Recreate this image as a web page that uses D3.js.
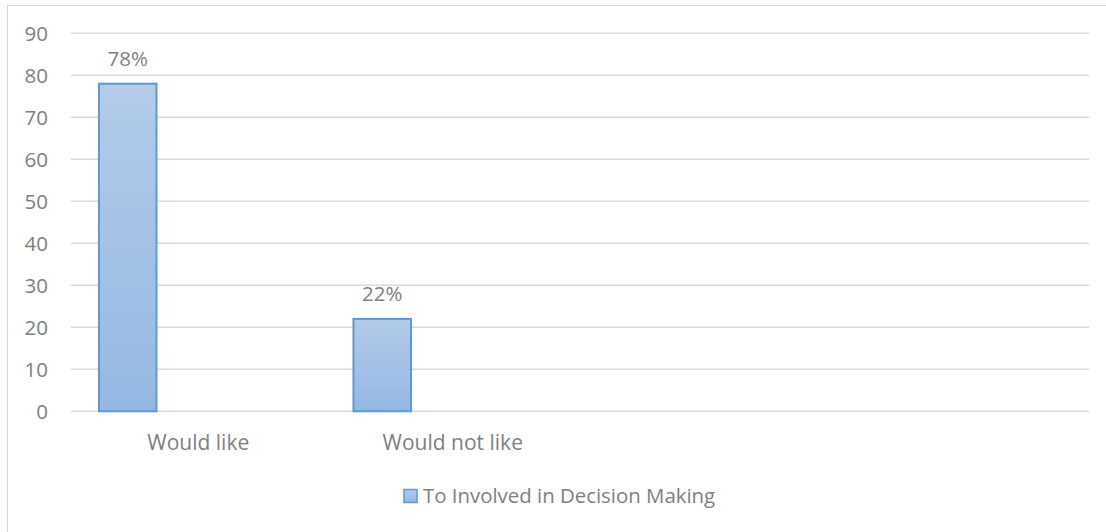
<!DOCTYPE html>
<html><head><meta charset="utf-8">
<script src="https://cdn.jsdelivr.net/npm/d3@7"></script>
<style>html,body{margin:0;padding:0;background:#fff;}svg{display:block;}</style>
</head><body>
<script>
const categories = ["Would like", "Would not like", "", ""];
const values = [78, 22, null, null];
const valueLabels = ["78%", "22%", "", ""];
const yTicks = [0, 10, 20, 30, 40, 50, 60, 70, 80, 90];
const seriesName = "To Involved in Decision Making";

const W = 1106, H = 532;
const plotLeft = 71, plotRight = 1089, plotTop = 33.3, plotBottom = 411.3;
const font = "'Open Sans', sans-serif";
const textColor = "#7f7f7f";

const svg = d3.select("body").append("svg").attr("width", W).attr("height", H);

const defs = svg.append("defs");
const grad = defs.append("linearGradient").attr("id", "barGrad").attr("x1", 0).attr("y1", 0).attr("x2", 0).attr("y2", 1);
grad.append("stop").attr("offset", "0%").attr("stop-color", "#b2cbe9");
grad.append("stop").attr("offset", "100%").attr("stop-color", "#94b8e3");

// outer chart border
svg.append("rect").attr("x", 7.5).attr("y", 5.5).attr("width", W + 20).attr("height", H + 20)
  .attr("fill", "none").attr("stroke", "#d9d9d9").attr("stroke-width", 1);

const y = d3.scaleLinear().domain([0, 90]).range([plotBottom, plotTop]);
const xCat = d3.scaleBand().domain(d3.range(categories.length)).range([plotLeft, plotRight]).padding(0);
const xBar = d3.scaleBand().domain(d3.range(categories.length)).range([plotLeft, plotRight])
  .paddingInner(0.774).paddingOuter(0.387).align(0.142);

// gridlines
svg.append("g").selectAll("line").data(yTicks).join("line")
  .attr("x1", plotLeft).attr("x2", plotRight)
  .attr("y1", d => y(d)).attr("y2", d => y(d))
  .attr("stroke", "#d9d9d9").attr("stroke-width", 1.5);

// y axis labels
const yAxis = d3.axisLeft(y).tickValues(yTicks).tickSize(0).tickPadding(0);
const ya = svg.append("g").attr("transform", `translate(48,0)`).call(yAxis);
ya.select(".domain").remove();
ya.selectAll("text").attr("font-family", font).attr("font-size", 20.5).attr("fill", textColor).attr("dy", "0.36em");

// bars
const barData = values.map((v, i) => ({ i, v })).filter(d => d.v != null);
svg.append("g").selectAll("rect").data(barData).join("rect")
  .attr("x", d => xBar(d.i)).attr("width", xBar.bandwidth())
  .attr("y", d => y(d.v)).attr("height", d => y(0) - y(d.v))
  .attr("fill", "url(#barGrad)").attr("stroke", "#5b9bd5").attr("stroke-width", 2);

// data labels
svg.append("g").selectAll("text").data(barData).join("text")
  .attr("x", d => xBar(d.i) + xBar.bandwidth() / 2).attr("y", d => y(d.v) - 17.5)
  .attr("text-anchor", "middle").attr("font-family", font).attr("font-size", 20.5).attr("fill", textColor)
  .text(d => valueLabels[d.i]);

// category labels
svg.append("g").selectAll("text").data(categories.map((c, i) => ({ c, i }))).join("text")
  .attr("x", d => xCat(d.i) + xCat.bandwidth() / 2).attr("y", 450)
  .attr("text-anchor", "middle").attr("font-family", font).attr("font-size", 21).attr("fill", textColor)
  .text(d => d.c);

// legend
const lg = svg.append("g");
lg.append("rect").attr("x", 404).attr("y", 489.5).attr("width", 13).attr("height", 13)
  .attr("fill", "url(#barGrad)").attr("stroke", "#5b9bd5").attr("stroke-width", 1.5);
lg.append("text").attr("x", 423).attr("y", 502.5).attr("font-family", font).attr("font-size", 20.4)
  .attr("fill", textColor).text(seriesName);
</script>
</body></html>
